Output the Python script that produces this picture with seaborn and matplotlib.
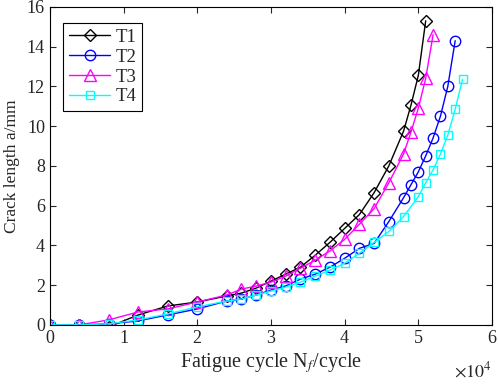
import numpy as np
import pandas as pd
import matplotlib
matplotlib.use('Agg')
import matplotlib.pyplot as plt
import seaborn as sns
from matplotlib.ticker import FuncFormatter

# fatigue cycles and crack lengths
t1_x = [0, 4000, 8000, 12000, 16000, 20000, 24000, 26000, 28000, 30000, 32000, 34000, 36000,
        38000, 40000, 42000, 44000, 46000, 48000, 49000, 50000, 51000]
t1_y = [0, 0, -0.1, 0.5, 0.95, 1.15, 1.45, 1.6, 1.85, 2.2, 2.55, 2.9, 3.5,
        4.15, 4.85, 5.55, 6.65, 8.0, 9.75, 11.05, 12.55, 15.3]

t2_x = [0, 4000, 8000, 12000, 16000, 20000, 24000, 26000, 28000, 30000, 32000, 34000, 36000,
        38000, 40000, 42000, 44000, 46000, 48000, 49000, 50000, 51000, 52000, 53000, 54000, 55000]
t2_y = [0, 0, 0.05, 0.2, 0.5, 0.8, 1.2, 1.3, 1.5, 1.75, 1.96, 2.3, 2.55,
        2.9, 3.35, 3.85, 4.1, 5.2, 6.4, 7.05, 7.7, 8.5, 9.4, 10.5, 12.0, 14.3]

t3_x = [0, 4000, 8000, 12000, 16000, 20000, 24000, 26000, 28000, 30000, 32000, 34000, 36000,
        38000, 40000, 42000, 44000, 46000, 48000, 49000, 50000, 51000, 52000]
t3_y = [0, 0, 0.25, 0.65, 0.8, 1.15, 1.5, 1.8, 1.95, 2.15, 2.45, 2.85, 3.25,
        3.72, 4.3, 5.06, 5.85, 7.15, 8.6, 9.7, 10.9, 12.4, 14.6]

t4_x = [0, 4000, 8000, 12000, 16000, 20000, 24000, 26000, 28000, 30000, 32000, 34000, 36000,
        38000, 40000, 42000, 44000, 46000, 48000, 50000, 51000, 52000, 53000, 54000, 55000, 56000]
t4_y = [0, 0, 0.05, 0.25, 0.55, 0.9, 1.2, 1.3, 1.5, 1.7, 1.9, 2.15, 2.45,
        2.75, 3.1, 3.6, 4.15, 4.7, 5.45, 6.45, 7.15, 7.8, 8.6, 9.55, 10.85, 12.35]

series = [('T1', t1_x, t1_y, 'black', 'D', 6.5),
          ('T2', t2_x, t2_y, 'blue', 'o', 7.5),
          ('T3', t3_x, t3_y, 'magenta', '^', 8.5),
          ('T4', t4_x, t4_y, 'cyan', 's', 6)]

sns.set_style('ticks')
plt.rcParams['font.family'] = ['Liberation Serif', 'DejaVu Serif']
plt.rcParams['mathtext.fontset'] = 'stix'
plt.rcParams['xtick.direction'] = 'in'
plt.rcParams['ytick.direction'] = 'in'

fig = plt.figure(figsize=(4.98, 3.84), dpi=100)
ax = fig.add_axes([0.1, 0.154, 0.888, 0.828])

for name, xs, ys, col, mk, ms in series:
    df = pd.DataFrame({'cycle': xs, 'length': ys})
    sns.lineplot(data=df, x='cycle', y='length', ax=ax, color=col, marker=mk,
                 markersize=ms, mfc='none', mec=col, mew=1, lw=1, label=name,
                 sort=False, estimator=None)

ax.set_xlim(0, 60000)
ax.set_ylim(0, 16)
ax.set_xticks(np.arange(0, 60001, 10000))
ax.set_yticks(np.arange(0, 17, 2))
ax.xaxis.set_major_formatter(FuncFormatter(lambda v, p: f'{v / 1e4:g}'))
ax.tick_params(axis='both', labelsize=13, top=True, right=True, length=4, width=0.8)
for sp in ax.spines.values():
    sp.set_linewidth(0.8)
    sp.set_color('black')

ax.text(1.0, -0.115, r'$\times10^{4}$', transform=ax.transAxes, ha='right', va='top',
        fontsize=13)

ax.set_xlabel(r'Fatigue cycle N$_{f}$/cycle', fontsize=14.5, labelpad=3)
ax.set_ylabel('Crack length a/mm', fontsize=12.5, labelpad=5)

leg = ax.legend(loc='upper left', fontsize=13.5, frameon=True, fancybox=False,
                edgecolor='black', framealpha=1, handlelength=2.2,
                borderaxespad=0.6, labelspacing=0.15, handletextpad=0.3,
                borderpad=0.3, bbox_to_anchor=(0.005, 0.985))
leg.get_frame().set_linewidth(0.8)

fig.savefig('out.png', dpi=100)
